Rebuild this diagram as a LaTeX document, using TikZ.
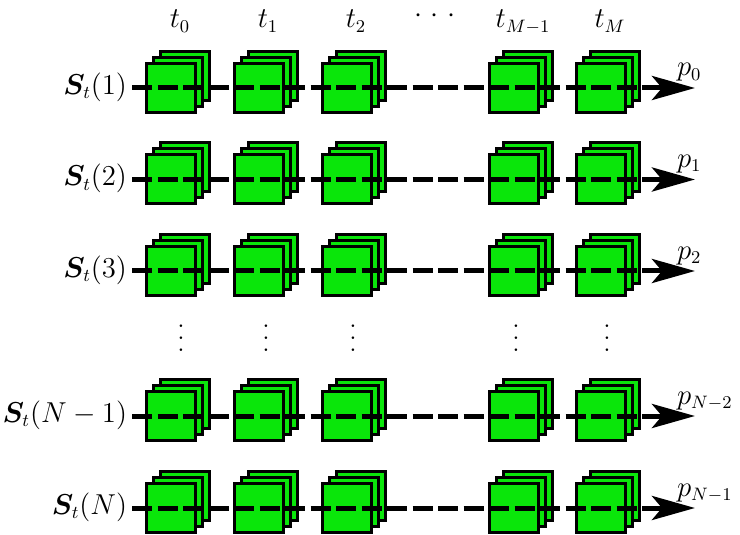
\documentclass[tikz,border=0pt]{standalone}
\usepackage{bm}
\usetikzlibrary{arrows.meta}
\definecolor{boxgreen}{RGB}{10,230,10}
\newcommand{\myvdots}{\vbox{\baselineskip6pt\lineskiplimit-5pt\hbox{.}\hbox{.}\hbox{.}}}
\begin{document}
\begin{tikzpicture}[x=0.5pt,y=-0.5pt,
  every node/.style={font=\fontsize{13.5}{16}\selectfont},
  sheet/.style={draw=black,fill=boxgreen,line width=1.5pt,minimum size=24.5pt,inner sep=0pt,outer sep=0pt},
  flow/.style={line width=2.5pt,dash pattern=on 10pt off 2.75pt,-{Stealth[length=21.5pt,width=12pt,inset=5pt]}},
  lbl/.style={inner sep=0pt,outer sep=0pt}]
\useasboundingbox (0,0) rectangle (740,535);
% column labels
\foreach \c/\x/\t in {1/171/0,2/259/1,3/347/2,4/514/{M-1},5/601/M}{
  \node[lbl,anchor=base] (t\c) at (\x+9,28) {$t_{\t}$};
}
\node[lbl,anchor=base] (hdots) at (435,22.5) {$\cdotp\kern2.1pt\cdotp\kern2.1pt\cdotp$};
% rows
\foreach \r/\y/\lab/\plab in {1/88/1/0,2/179.5/2/1,3/271/3/2,4/416/{N-1}/{N-2},5/508/N/{N-1}}{
  \node[lbl,anchor=base east] (S\r) at (127,\y+6.5) {$\bm{S}_t(\lab)$};
  \foreach \c/\x in {1/171,2/259,3/347,4/514,5/601}{
    \node[sheet] (c\r-\c-3) at (\x+14,\y-12) {};
    \node[sheet] (c\r-\c-2) at (\x+7,\y-6) {};
    \node[sheet] (c\r-\c-1) at (\x,\y) {};
  }
  \coordinate (a\r) at (132,\y);
  \coordinate (b\r) at (695,\y);
  \draw[flow] (a\r) -- (b\r);
  \node[lbl,anchor=base west] (p\r) at (677,\y-12) {$p_{\plab}$};
}
% vertical dots
\foreach \i/\x in {1/181,2/266,3/353,4/516,5/607}{
  \node[lbl,anchor=base] (v\i) at (\x,351.3) {\myvdots};
}
\end{tikzpicture}
\end{document}
